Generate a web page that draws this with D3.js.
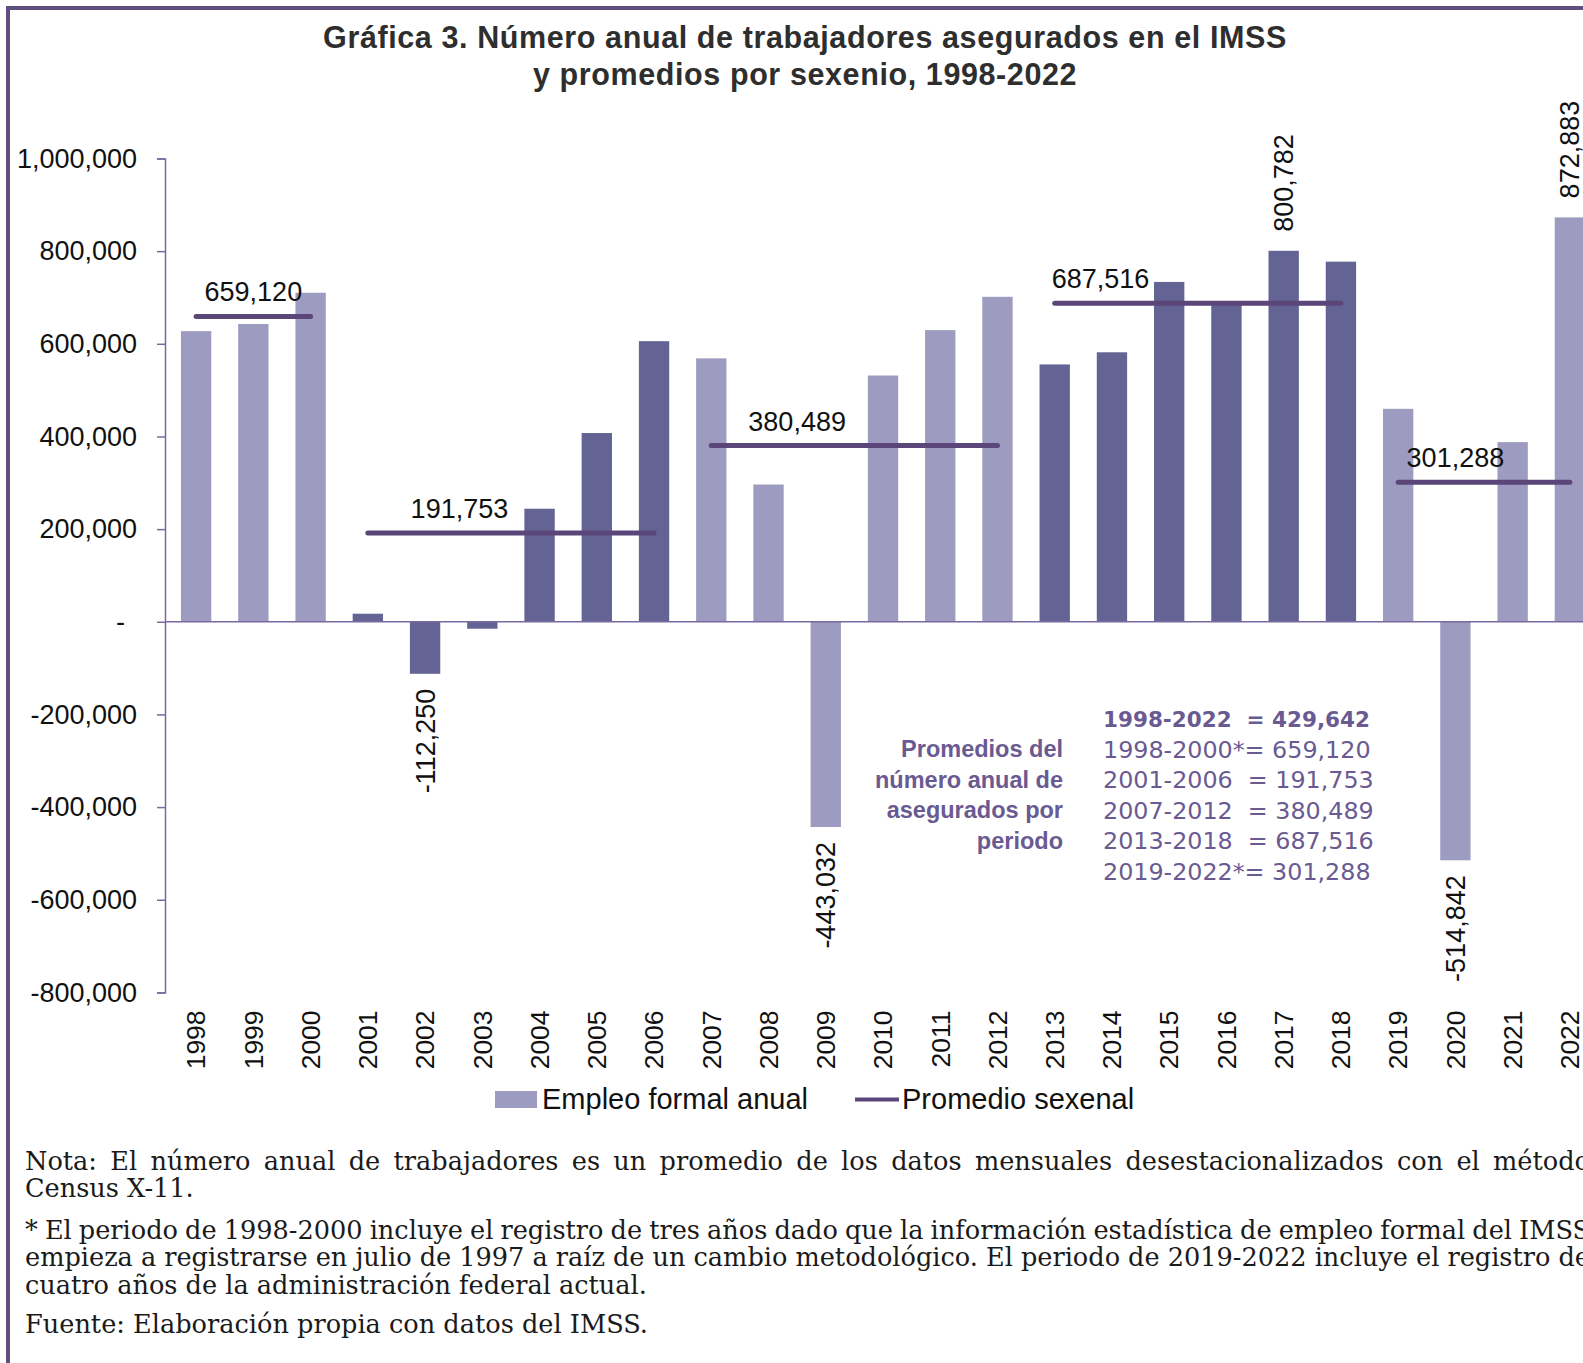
<!DOCTYPE html>
<html>
<head>
<meta charset="utf-8">
<script src="https://cdn.jsdelivr.net/npm/d3@7"></script>
<style>
  body { margin: 0; background: #fff; overflow: hidden; }
  svg { display: block; }
</style>
</head>
<body>
<div id="chart"></div>
<script>
// data
const years = ["1998","1999","2000","2001","2002","2003","2004","2005","2006","2007","2008","2009",
  "2010","2011","2012","2013","2014","2015","2016","2017","2018","2019","2020","2021","2022"]
const empleo = [627400, 642700, 710200, 17400, -112250, -15000, 244000, 407400, 605700, 568600,
  296300, -443032, 531600, 629600, 701500, 555500, 581700, 733550, 684000, 800782, 777350,
  459700, -514842, 387800, 872883]
const periodos = ["1998-2000*", "2001-2006", "2007-2012", "2013-2018", "2019-2022*"]
const periodoInicio = ["1998", "2001", "2007", "2013", "2019"]
const periodoFin = ["2000", "2006", "2012", "2018", "2022"]
const promedios = [659120, 191753, 380489, 687516, 301288]
const periodoTotal = "1998-2022"
const promedioTotal = 429642
const etiquetados = ["2002", "2009", "2017", "2020", "2022"]
const yTicks = [1000000, 800000, 600000, 400000, 200000, 0, -200000, -400000, -600000, -800000]

const titulo = ["Gráfica 3. Número anual de trabajadores asegurados en el IMSS",
  "y promedios por sexenio, 1998-2022"]
const leyenda = ["Empleo formal anual", "Promedio sexenal"]
const cajaTexto = ["Promedios del", "número anual de", "asegurados por", "periodo"]
const notas = [
  {text: "Nota: El número anual de trabajadores es un promedio de los datos mensuales desestacionalizados con el método", justify: true},
  {text: "Census X-11.", justify: false},
  {text: "* El periodo de 1998-2000 incluye el registro de tres años dado que la información estadística de empleo formal del IMSS", justify: true},
  {text: "empieza a registrarse en julio de 1997 a raíz de un cambio metodológico. El periodo de 2019-2022 incluye el registro de", justify: true},
  {text: "cuatro años de la administración federal actual.", justify: false},
  {text: "Fuente: Elaboración propia con datos del IMSS.", justify: false}
]

// layout
const WIDTH = 1583, HEIGHT = 1363
const PLOT = {LEFT: 167.5, RIGHT: 1598.5, TOP: 158.5, BOTTOM: 992.4, AXIS: 165}
const AVG_LABEL_AT = [1, 4.6, 10.5, 15.8, 22] // in steps from first year
const NOTE_Y = [1170, 1197, 1239, 1266, 1294, 1333]
const SANS = "'Liberation Sans', Arial, sans-serif"
const LIGHT = "#9d9cc0", DARK = "#636394", LINE = "#5b4679", AXIS = "#7a69a0", PURPLE = "#6a5a92"

// excel style: plain hyphen for negatives
const fmt = v => d3.format(",")(v).replace("\u2212", "-")

const svg = d3.select("#chart").append("svg")
  .attr("width", WIDTH).attr("height", HEIGHT)
  .style("font-family", SANS)

// frame
svg.append("rect")
  .attr("x", 8).attr("y", 8).attr("width", 1650).attr("height", 1450)
  .attr("fill", "none").attr("stroke", "#5e4f80").attr("stroke-width", 4)

// title
svg.selectAll(".title").data(titulo).enter().append("text")
  .attr("class", "title")
  .attr("x", 805).attr("y", (d, i) => i === 0 ? 48 : 85)
  .attr("text-anchor", "middle")
  .attr("font-size", 30.5).attr("font-weight", "bold")
  .attr("letter-spacing", 0.6)
  .attr("fill", "#2e2e2e")
  .text(d => d)

// scales
const x = d3.scaleBand().domain(years).range([PLOT.LEFT, PLOT.RIGHT])
  .paddingInner(0.47).paddingOuter(0.235)
const y = d3.scaleLinear().domain([-800000, 1000000]).range([PLOT.BOTTOM, PLOT.TOP])
const cx = d => x(d) + x.bandwidth() / 2

// period of each year -> colour
const periodOf = yr => periodoInicio.findIndex((s, i) => yr >= s && yr <= periodoFin[i])
const barColor = yr => periodOf(yr) % 2 === 0 ? LIGHT : DARK

// y axis
const yAxis = svg.append("g")
  .attr("transform", `translate(${PLOT.AXIS},0)`)
  .call(d3.axisLeft(y).tickValues(yTicks).tickSize(8).tickPadding(20)
    .tickFormat(d => d === 0 ? "-" : fmt(d)))
yAxis.select(".domain").attr("stroke", AXIS).attr("stroke-width", 1.5)
yAxis.selectAll(".tick line").attr("stroke", AXIS).attr("stroke-width", 1.5)
yAxis.selectAll(".tick text").attr("font-size", 27).attr("font-family", SANS).attr("fill", "#111")
yAxis.selectAll(".tick text").filter(d => d === 0).attr("x", -40)

// x axis labels (at the bottom)
const xAxis = svg.append("g")
  .attr("transform", `translate(0,${PLOT.BOTTOM})`)
  .call(d3.axisBottom(x).tickSize(0))
xAxis.select(".domain").remove()
xAxis.selectAll(".tick text")
  .attr("transform", "rotate(-90)")
  .attr("x", -18).attr("y", 0).attr("dy", "0.35em")
  .attr("text-anchor", "end")
  .attr("font-size", 26.5).attr("font-family", SANS).attr("fill", "#111")

// bars
const data = years.map((yr, i) => ({year: yr, value: empleo[i]}))
svg.selectAll(".bar").data(data).enter().append("rect")
  .attr("class", "bar")
  .attr("x", d => x(d.year))
  .attr("width", x.bandwidth())
  .attr("y", d => y(Math.max(0, d.value)))
  .attr("height", d => Math.abs(y(d.value) - y(0)))
  .attr("fill", d => barColor(d.year))

// zero line
svg.append("line")
  .attr("x1", PLOT.AXIS).attr("x2", WIDTH + 20)
  .attr("y1", y(0)).attr("y2", y(0))
  .attr("stroke", AXIS).attr("stroke-width", 1.5)

// value labels
svg.selectAll(".vlabel").data(data.filter(d => etiquetados.includes(d.year))).enter().append("text")
  .attr("class", "vlabel")
  .attr("transform", d => `translate(${cx(d.year)},${d.value >= 0 ? y(d.value) - 19 : y(d.value) + 15}) rotate(-90)`)
  .attr("dy", "0.35em")
  .attr("text-anchor", d => d.value >= 0 ? "start" : "end")
  .attr("font-size", 27).attr("fill", "#111")
  .text(d => fmt(d.value))

// sexenio averages
const avg = promedios.map((v, i) => ({v, from: periodoInicio[i], to: periodoFin[i], at: AVG_LABEL_AT[i]}))
svg.selectAll(".avg").data(avg).enter().append("line")
  .attr("class", "avg")
  .attr("x1", d => cx(d.from)).attr("x2", d => cx(d.to))
  .attr("y1", d => y(d.v)).attr("y2", d => y(d.v))
  .attr("stroke", LINE).attr("stroke-width", 5).attr("stroke-linecap", "round")
svg.selectAll(".avglabel").data(avg).enter().append("text")
  .attr("class", "avglabel")
  .attr("x", d => cx(years[0]) + d.at * x.step())
  .attr("y", d => y(d.v) - 15)
  .attr("text-anchor", "middle")
  .attr("font-size", 27).attr("fill", "#111")
  .text(d => fmt(d.v))

// text box with averages
const box = svg.append("g").attr("fill", PURPLE)
box.selectAll(".boxl").data(cajaTexto).enter().append("text")
  .attr("x", 1063).attr("y", (d, i) => 757 + i * 30.6)
  .attr("text-anchor", "end").attr("font-size", 23.5).attr("font-weight", "bold")
  .text(d => d)
const rows = [periodoTotal + "  = " + fmt(promedioTotal)]
  .concat(periodos.map((p, i) => p + (p.endsWith("*") ? "= " : "  = ") + fmt(promedios[i])))
box.selectAll(".boxr").data(rows).enter().append("text")
  .attr("x", 1103).attr("y", (d, i) => 727 + i * 30.6)
  .style("white-space", "pre")
  .attr("font-family", "'DejaVu Sans', sans-serif")
  .attr("font-size", (d, i) => i === 0 ? 21.5 : 23.8)
  .attr("font-weight", (d, i) => i === 0 ? "bold" : "normal")
  .text(d => d)

// legend
const lg = svg.append("g").attr("font-size", 29).attr("fill", "#111")
lg.append("rect").attr("x", 495).attr("y", 1091).attr("width", 42).attr("height", 17).attr("fill", LIGHT)
lg.append("text").attr("x", 542).attr("y", 1109).text(leyenda[0])
lg.append("line").attr("x1", 855).attr("x2", 899).attr("y1", 1099.5).attr("y2", 1099.5)
  .attr("stroke", LINE).attr("stroke-width", 4)
lg.append("text").attr("x", 902).attr("y", 1109).text(leyenda[1])

// notes
const notesG = svg.append("g")
  .attr("font-family", "'DejaVu Serif', 'Liberation Serif', serif")
  .attr("font-size", 25.6).attr("fill", "#1a1a1a")
const X0 = 25, X1 = 1590
notas.forEach((n, i) => {
  const t = notesG.append("text").attr("y", NOTE_Y[i])
  if (!n.justify) { t.attr("x", X0).text(n.text); return }
  const words = n.text.split(" ")
  const spans = words.map(w => t.append("tspan").text(w))
  const widths = spans.map(s => s.node().getComputedTextLength())
  const gap = (X1 - X0 - d3.sum(widths)) / (words.length - 1)
  if (gap < 4) {
    spans.forEach(s => s.remove())
    t.attr("x", X0).attr("textLength", X1 - X0).attr("lengthAdjust", "spacingAndGlyphs").text(n.text)
    return
  }
  let pos = X0
  spans.forEach((s, j) => { s.attr("x", pos); pos += widths[j] + gap })
})
</script>
</body>
</html>
